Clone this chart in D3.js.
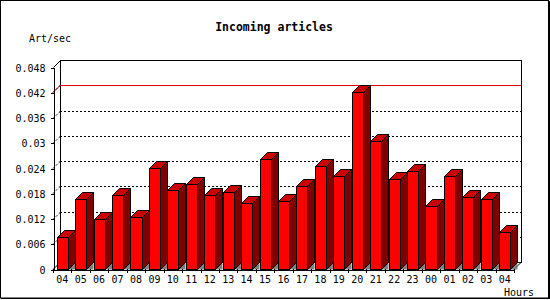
<!DOCTYPE html>
<html><head><meta charset="utf-8">
<script src="https://cdn.jsdelivr.net/npm/d3@7"></script>
<style>
html,body{margin:0;padding:0;background:#fff;}
svg{display:block;}
text{font-family:"DejaVu Sans Mono",monospace;fill:#000;}
</style></head>
<body>
<svg id="c" width="550" height="300"></svg>
<script>
const hours = ["04","05","06","07","08","09","10","11","12","13","14","15","16","17","18","19","20","21","22","23","00","01","02","03","04"];
const values = [0.0075,0.0166,0.0118,0.0175,0.0123,0.0239,0.0187,0.0201,0.0177,0.0182,0.0156,0.0261,0.0161,0.0197,0.0244,0.0220,0.0420,0.0303,0.0213,0.0232,0.0149,0.0220,0.0170,0.0166,0.0087];
const yTickValues = [0,0.006,0.012,0.018,0.024,0.03,0.036,0.042,0.048];
const yTickLabels = ["0","0.006","0.012","0.018","0.024","0.03","0.036","0.042","0.048"];
const title = "Incoming articles";
const yTitle = "Art/sec";
const xTitle = "Hours";

const svg = d3.select("#c");
const D = 7; // 3D depth
const x0 = 53, x1 = 514, yb = 269, yt = 67;
const idx = hours.map((h,i)=>i);
const x = d3.scaleBand().domain(idx).range([x0, x1]).padding(0);
const y = d3.scaleLinear().domain([0,0.048]).range([yb, yt]);
const bw = x.bandwidth()*0.6;

// outer frame
svg.append("rect").attr("x",0.5).attr("y",0.5).attr("width",548).attr("height",297.5)
  .attr("fill","none").attr("stroke","#000").attr("stroke-width",1);
svg.append("line").attr("x1",1).attr("x2",549).attr("y1",298.5).attr("y2",298.5).attr("stroke","#000");
svg.append("line").attr("x1",549.5).attr("x2",549.5).attr("y1",1).attr("y2",299).attr("stroke","#000");

const g = svg.append("g").attr("shape-rendering","crispEdges");

// back plane
const bx0 = x0 + D, bx1 = x1 + D;
const byT = y(0.048) - D, byB = yb - D;
g.append("rect").attr("x",bx0+0.5).attr("y",Math.round(byT)+0.5).attr("width",bx1-bx0).attr("height",Math.round(byB-byT))
  .attr("fill","#fff").attr("stroke","#000");

// max plotline (red)
const vmax = d3.max(values);
const ymF = Math.round(y(vmax))+0.5, ymB = Math.round(y(vmax)-D)+0.5;
svg.append("path").attr("d",`M${x0},${ymF}L${bx0},${ymB}L${bx1},${ymB}`)
  .attr("fill","none").attr("stroke","#e00000");

// gridlines (dotted) on back plane and side wall
yTickValues.slice(1,-1).forEach(v=>{
  const yf = Math.round(y(v))+0.5, yk = Math.round(y(v)-D)+0.5;
  g.append("line").attr("x1",bx0).attr("x2",bx1).attr("y1",yk).attr("y2",yk)
    .attr("stroke","#000").attr("stroke-dasharray","2,2");
  svg.append("line").attr("x1",x0).attr("x2",bx0).attr("y1",yf).attr("y2",yk)
    .attr("stroke","#000").attr("stroke-dasharray","2,2");
});

// floor right edge
svg.append("line").attr("x1",x1).attr("y1",yb+0.5).attr("x2",bx1).attr("y2",byB+0.5).attr("stroke","#000");
svg.append("line").attr("x1",x0).attr("y1",yb+0.5).attr("x2",bx0).attr("y2",byB+0.5).attr("stroke","#000");

// bars
const bars = svg.append("g");
values.forEach((v,i)=>{
  const xl = Math.round(x(i) + (x.bandwidth()-bw)/2)+0.5;
  const xr = Math.round(x(i) + (x.bandwidth()+bw)/2)+0.5;
  const yT = Math.round(y(v))+0.5, yB = yb+0.5;
  // floor shadow triangle
  bars.append("path").attr("d",`M${xr},${yB}L${xr+D},${yB-D}L${xr+D},${yB}Z`).attr("fill","#808080").attr("stroke","none");
  // side
  bars.append("path").attr("d",`M${xr},${yT}L${xr+D},${yT-D}L${xr+D},${yB-D}L${xr},${yB}Z`)
    .attr("fill","#800000").attr("stroke","#000");
  // top
  bars.append("path").attr("d",`M${xl},${yT}L${xl+D},${yT-D}L${xr+D},${yT-D}L${xr},${yT}Z`)
    .attr("fill","#cc0000").attr("stroke","#000");
  // front
  bars.append("rect").attr("x",xl).attr("y",yT).attr("width",xr-xl).attr("height",yB-yT)
    .attr("fill","#ff0000").attr("stroke","#000");
});

// y axis
const ya = svg.append("g").attr("transform",`translate(${x0+0.5},0.5)`)
  .call(d3.axisLeft(y).tickValues(yTickValues).tickFormat((d,i)=>yTickLabels[i]).tickSize(3).tickSizeOuter(0).tickPadding(5));
ya.selectAll("path,line").attr("stroke","#000").attr("shape-rendering","crispEdges");
ya.selectAll("text").attr("font-size","10px").attr("font-family","DejaVu Sans Mono").attr("dy","0.35em");
// top corner diagonal
svg.append("line").attr("x1",x0+0.5).attr("y1",Math.round(yt)+0.5).attr("x2",bx0+0.5).attr("y2",Math.round(byT)+0.5).attr("stroke","#000");

// x axis
const xa = svg.append("g").attr("transform",`translate(0,${yb+0.5})`)
  .call(d3.axisBottom(x).tickFormat(i=>hours[i]).tickSize(0).tickSizeOuter(0).tickPadding(6));
xa.select(".domain").attr("stroke","#000").attr("shape-rendering","crispEdges");
xa.selectAll("text").attr("font-size","10px").attr("font-family","DejaVu Sans Mono").attr("dy","0.71em");
idx.concat([hours.length]).forEach(i=>{
  const xp = Math.round(i<hours.length ? x(i) : x1)+0.5;
  svg.append("line").attr("x1",xp).attr("x2",xp).attr("y1",yb).attr("y2",yb+4).attr("stroke","#000").attr("shape-rendering","crispEdges");
});

// titles
svg.append("text").attr("x",274).attr("y",31).attr("text-anchor","middle")
  .attr("font-size","11.5px").attr("font-weight","bold").text(title);
svg.append("text").attr("x",29).attr("y",42).attr("font-size","10px").text(yTitle);
svg.append("text").attr("x",534).attr("y",296).attr("text-anchor","end").attr("font-size","10px").text(xTitle);
</script>
</body></html>
